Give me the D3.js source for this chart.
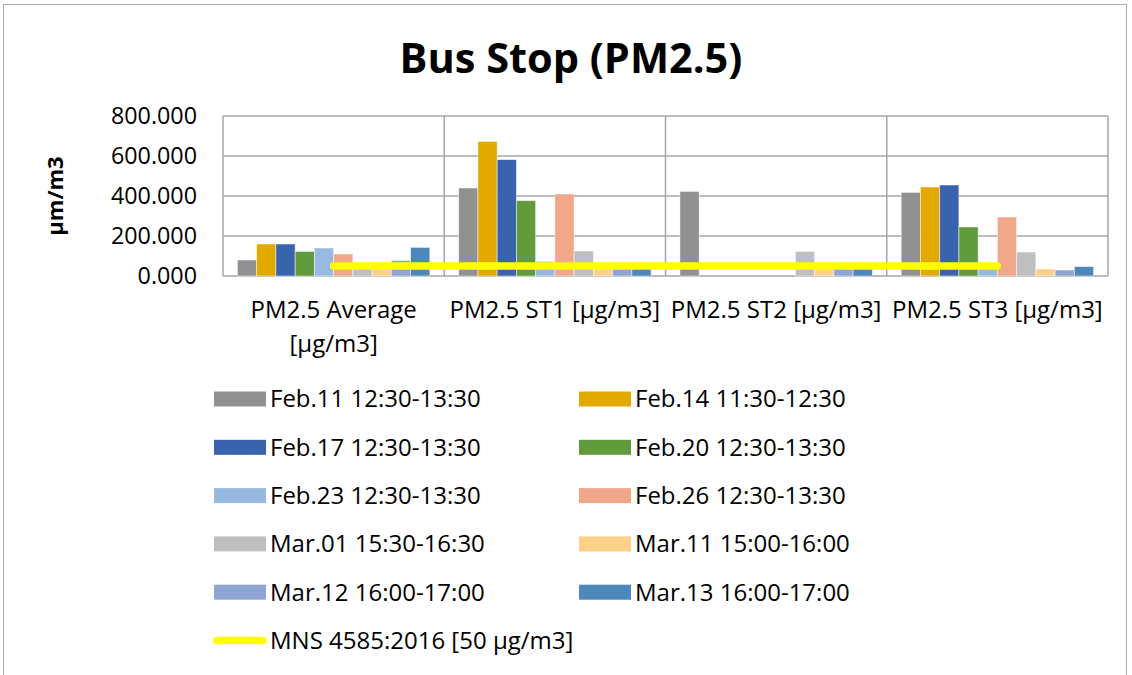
<!DOCTYPE html>
<html><head><meta charset="utf-8">
<script src="https://cdn.jsdelivr.net/npm/d3@7"></script>
<style>html,body{margin:0;padding:0;background:#fff;} svg{display:block;font-family:"Open Sans",sans-serif;}</style>
</head><body>
<svg id="c" width="1132" height="675"></svg>
<script>
const categories = ["PM2.5 Average [µg/m3]", "PM2.5 ST1 [µg/m3]", "PM2.5 ST2 [µg/m3]", "PM2.5 ST3 [µg/m3]"];
const categoryLines = [["PM2.5 Average", "[µg/m3]"], ["PM2.5 ST1 [µg/m3]"], ["PM2.5 ST2 [µg/m3]"], ["PM2.5 ST3 [µg/m3]"]];
const seriesNames = ["Feb.11 12:30-13:30", "Feb.14 11:30-12:30", "Feb.17 12:30-13:30", "Feb.20 12:30-13:30", "Feb.23 12:30-13:30",
  "Feb.26 12:30-13:30", "Mar.01 15:30-16:30", "Mar.11 15:00-16:00", "Mar.12 16:00-17:00", "Mar.13 16:00-17:00"];
const seriesColors = ["#919191", "#E2A900", "#3A63AD", "#629A3E", "#98B9E0", "#F0A78A", "#BFBFBF", "#FFD08A", "#8FA5D4", "#4D88BD"];
// values per series, in order of categories
const feb11 = [80, 440, 423, 418];
const feb14 = [160, 673, 0, 445];
const feb17 = [160, 582, 0, 455];
const feb20 = [123, 377, 0, 245];
const feb23 = [140, 73, 0, 40];
const feb26 = [110, 410, 0, 295];
const mar01 = [55, 125, 123, 120];
const mar11 = [45, 40, 35, 35];
const mar12 = [78, 42, 40, 30];
const mar13 = [143, 40, 45, 47];
const seriesValues = [feb11, feb14, feb17, feb20, feb23, feb26, mar01, mar11, mar12, mar13];
const limitName = "MNS 4585:2016 [50 µg/m3]";
const limitValues = [50, 50, 50, 50];
const yTicks = [0, 200, 400, 600, 800];
const title = "Bus Stop (PM2.5)";
const yTitle = "µm/m3";

const svg = d3.select("#c");
const plot = {l: 223, r: 1108, t: 116, b: 276};
const grid = "#A6A6A6";

svg.append("rect").attr("x", 3.5).attr("y", 4.5).attr("width", 1123).attr("height", 690)
  .attr("fill", "none").attr("stroke", "#ABABAB").attr("stroke-width", 1);

svg.append("text").attr("x", 571).attr("y", 73).attr("text-anchor", "middle")
  .attr("font-size", 41.5).attr("font-weight", 700).attr("fill", "#000").text(title);

const x = d3.scaleBand().domain(categories).range([plot.l, plot.r]).paddingInner(0).paddingOuter(0);
const xs = d3.scaleBand().domain(seriesNames).range([0, x.bandwidth()]).paddingInner(0).paddingOuter(0.75);
const y = d3.scaleLinear().domain([0, 800]).range([plot.b, plot.t]);

// horizontal gridlines
svg.append("g").selectAll("line").data(yTicks).join("line")
  .attr("x1", plot.l).attr("x2", plot.r).attr("y1", d => y(d)).attr("y2", d => y(d))
  .attr("stroke", grid).attr("stroke-width", 1.5);
// vertical gridlines at category boundaries
const bounds = categories.map(c => x(c)).concat([plot.r]);
svg.append("g").selectAll("line").data(bounds).join("line")
  .attr("x1", d => d).attr("x2", d => d).attr("y1", plot.t).attr("y2", plot.b)
  .attr("stroke", grid).attr("stroke-width", 1.5);

// y axis labels
const yAxis = d3.axisLeft(y).tickValues(yTicks).tickFormat(d3.format(".3f")).tickSize(0).tickPadding(26);
const ya = svg.append("g").attr("transform", `translate(${plot.l},0)`).call(yAxis);
ya.select(".domain").remove();
ya.selectAll("text").attr("font-size", 23.3).attr("font-family", "Open Sans").attr("fill", "#000");

svg.append("text").attr("transform", `translate(63,${(plot.t + plot.b) / 2}) rotate(-90)`)
  .attr("text-anchor", "middle").attr("font-size", 22).attr("font-weight", 700).attr("fill", "#000").text(yTitle);

// bars
const bars = [];
seriesNames.forEach((s, i) => categories.forEach((c, j) => bars.push({s, c, v: seriesValues[i][j], col: seriesColors[i]})));
svg.append("g").selectAll("rect").data(bars.filter(d => d.v > 0)).join("rect")
  .attr("x", d => x(d.c) + xs(d.s)).attr("width", xs.bandwidth())
  .attr("y", d => y(d.v)).attr("height", d => y(0) - y(d.v))
  .attr("fill", d => d.col).attr("stroke", "#fff").attr("stroke-opacity", 0.6).attr("stroke-width", 0.8);

// limit line
const line = d3.line().x((d, i) => x(categories[i]) + x.bandwidth() / 2).y(d => y(d));
svg.append("path").datum(limitValues).attr("d", line).attr("fill", "none")
  .attr("stroke", "#FFFF00").attr("stroke-width", 7.5).attr("stroke-linecap", "round");

// x labels
categoryLines.forEach((lines, i) => {
  const t = svg.append("text").attr("text-anchor", "middle").attr("font-size", 24).attr("fill", "#000");
  lines.forEach((ln, k) => t.append("tspan").attr("x", x(categories[i]) + x.bandwidth() / 2).attr("y", 318 + k * 34).text(ln));
});

// legend
const legItems = seriesNames.map((s, i) => ({name: s, color: seriesColors[i], type: "bar"}));
legItems.push({name: limitName, color: "#FFFF00", type: "line"});
const lg = svg.append("g");
legItems.forEach((d, i) => {
  const col = i % 2, row = Math.floor(i / 2);
  const sx = col === 0 ? 214 : 579;
  const cy = 399 + row * 48.3;
  if (d.type === "bar") {
    lg.append("rect").attr("x", sx).attr("y", cy - 7.5).attr("width", 52).attr("height", 15).attr("fill", d.color);
  } else {
    lg.append("line").attr("x1", sx + 3).attr("x2", sx + 49).attr("y1", cy).attr("y2", cy)
      .attr("stroke", d.color).attr("stroke-width", 7.5).attr("stroke-linecap", "round");
  }
  lg.append("text").attr("x", sx + 56).attr("y", cy).attr("dy", "0.35em").attr("font-size", 24).attr("fill", "#000").text(d.name);
});
</script>
</body></html>
